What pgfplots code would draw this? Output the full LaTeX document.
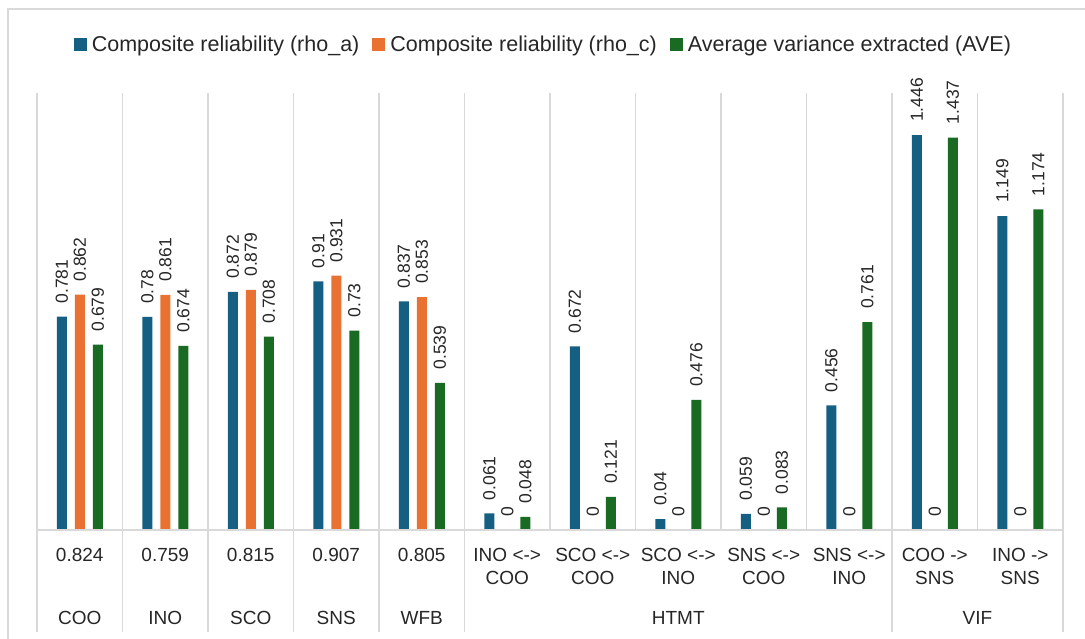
\documentclass[border=0pt]{standalone}
\usepackage{fontspec}
\setmainfont{Liberation Sans}
\usepackage{pgfplots}
\usepackage{pgfplotstable}
\pgfplotsset{compat=1.18}

\definecolor{rhoa}{HTML}{156082}
\definecolor{rhoc}{HTML}{E97132}
\definecolor{avec}{HTML}{196B24}
\definecolor{gridc}{HTML}{D9D9D9}
\definecolor{txt}{HTML}{262626}

% x: category index (COO ... INO -> SNS)
\pgfplotstableread{
x  rhoa   rhoc   ave
0  0.781  0.862  0.679
1  0.78   0.861  0.674
2  0.872  0.879  0.708
3  0.91   0.931  0.73
4  0.837  0.853  0.539
5  0.061  0      0.048
6  0.672  0      0.121
7  0.04   0      0.476
8  0.059  0      0.083
9  0.456  0      0.761
10 1.446  0      1.437
11 1.149  0      1.174
}\reltable

\tikzset{outerlab/.style={text=txt, font=\fontsize{19}{23}\selectfont, anchor=base}}

\begin{document}
\begin{tikzpicture}
\useasboundingbox (0,0) rectangle (1085pt,639pt);
\draw[gridc, line width=1.5pt] (8pt,0) -- (8pt,630pt) -- (1085pt,630pt);

\begin{axis}[
    at={(37pt,109pt)}, anchor=south west,
    scale only axis,
    width=1026pt, height=437pt,
    xmin=-0.5, xmax=11.5,
    ymin=0, ymax=1.6,
    ybar=8pt, bar width=10pt,
    clip=false,
    axis line style={draw=none},
    ytick=\empty,
    xtick={0,...,11},
    xticklabels={0.824,0.759,0.815,0.907,0.805,
        {INO <->\\COO},{SCO <->\\COO},{SCO <->\\INO},
        {SNS <->\\COO},{SNS <->\\INO},{COO ->\\SNS},{INO ->\\SNS}},
    xticklabel style={align=center, anchor=north, inner sep=0pt, yshift=-18pt,
        text=txt, font=\fontsize{19}{23}\selectfont},
    major tick length=0pt,
    minor xtick={-0.5,0.5,1.5,2.5,3.5,4.5,5.5,6.5,7.5,8.5,9.5,10.5,11.5},
    minor tick length=0pt,
    xminorgrids,
    minor grid style={gridc, line width=1.3pt},
    nodes near coords,
    every node near coord/.append style={rotate=90, anchor=west, inner xsep=13pt,
        inner ysep=0pt, text=txt, font=\fontsize{17.5}{20}\selectfont},
    /pgf/number format/fixed,
    /pgf/number format/assume math mode=true,
    /pgf/number format/precision=3,
    legend columns=3,
    legend image code/.code={\fill[#1, draw=none] (0pt,-6.5pt) rectangle (13pt,6.5pt);},
    legend style={at={(rel axis cs:0.495,1.11)}, anchor=center, draw=none, fill=none,
        text=txt, font=\fontsize{21.5}{25}\selectfont,
        nodes={inner xsep=5pt},
        /tikz/every even column/.append style={column sep=8pt}},
]
\addplot[fill=rhoa, draw=none] table[x=x, y=rhoa] {\reltable};
\addplot[fill=rhoc, draw=none] table[x=x, y=rhoc] {\reltable};
\addplot[fill=avec, draw=none] table[x=x, y=ave] {\reltable};
\legend{Composite reliability (rho\_a), Composite reliability (rho\_c), Average variance extracted (AVE)}

% category axis base line and dividers of the label area
\draw[gridc, line width=1.5pt] (axis cs:-0.5,0) -- (axis cs:11.5,0);
\pgfplotsinvokeforeach{-0.5,0.5,1.5,2.5,3.5,4.5,9.5,11.5}{
  \draw[gridc, line width=1.3pt] (axis cs:#1,0) -- ++(0pt,-102pt);
}

% outer category level
\node[outerlab] at ([yshift=-95pt]axis cs:0,0) {COO};
\node[outerlab] at ([yshift=-95pt]axis cs:1,0) {INO};
\node[outerlab] at ([yshift=-95pt]axis cs:2,0) {SCO};
\node[outerlab] at ([yshift=-95pt]axis cs:3,0) {SNS};
\node[outerlab] at ([yshift=-95pt]axis cs:4,0) {WFB};
\node[outerlab] at ([yshift=-95pt]axis cs:7,0) {HTMT};
\node[outerlab] at ([yshift=-95pt]axis cs:10.5,0) {VIF};
\end{axis}
\end{tikzpicture}
\end{document}
